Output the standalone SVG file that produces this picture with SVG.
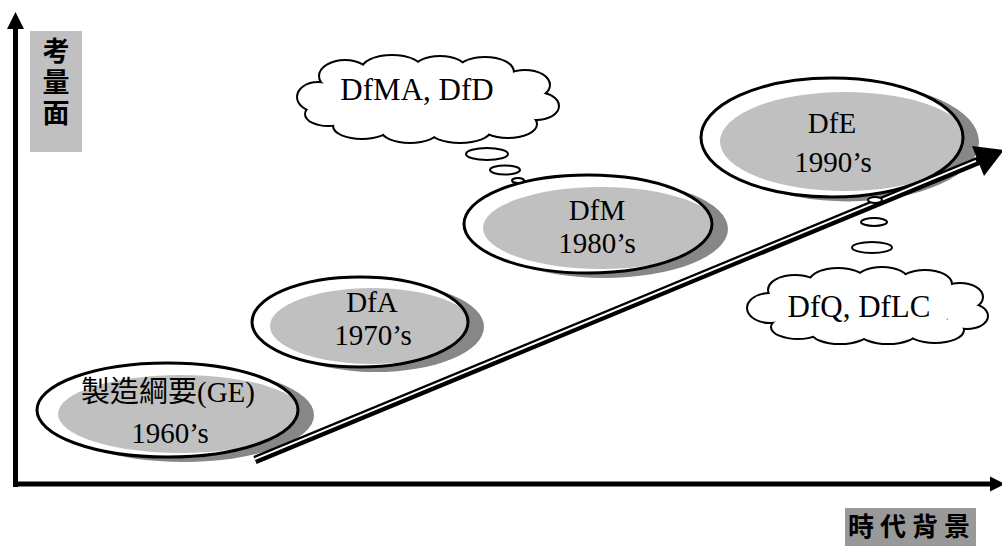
<svg xmlns="http://www.w3.org/2000/svg" width="1002" height="546" viewBox="0 0 1002 546">
<style>
.axis{stroke:#000;stroke-width:5;fill:none}
.head{fill:#000}
.shadow{fill:#878787}
.face{fill:#fff}
.inner{fill:#c0c0c0}
.rim{fill:none;stroke:#000;stroke-width:3}
.ntext{font-family:"Liberation Serif","Times New Roman","Noto Sans CJK TC",serif;font-size:29px;fill:#000;text-anchor:middle}
.ctext{font-family:"Liberation Serif","Times New Roman",serif;font-size:31px;fill:#000;text-anchor:middle}
.lab{font-family:"Noto Sans CJK TC",sans-serif;font-weight:700;fill:#000}
.bubble{fill:#fff;stroke:#000;stroke-width:2}
</style>
<defs>
<clipPath id="clip-ge"><ellipse cx="167.5" cy="410" rx="130.5" ry="47"/></clipPath>
<clipPath id="clip-dfa"><ellipse cx="360" cy="322" rx="108" ry="45"/></clipPath>
<clipPath id="clip-dfm"><ellipse cx="588" cy="224" rx="124" ry="49"/></clipPath>
<clipPath id="clip-dfe"><ellipse cx="832" cy="137.5" rx="131" ry="59.5"/></clipPath>
<g id="cloud1-shape">
<ellipse cx="318" cy="97" rx="20" ry="14"/>
<ellipse cx="345" cy="76" rx="25" ry="15"/>
<ellipse cx="392" cy="70" rx="30" ry="14"/>
<ellipse cx="440" cy="70" rx="26" ry="13"/>
<ellipse cx="485" cy="72" rx="28" ry="14"/>
<ellipse cx="525" cy="85" rx="24" ry="14"/>
<ellipse cx="536" cy="106" rx="22" ry="13"/>
<ellipse cx="508" cy="124" rx="28" ry="13"/>
<ellipse cx="460" cy="130" rx="30" ry="12"/>
<ellipse cx="410" cy="130" rx="28" ry="12"/>
<ellipse cx="362" cy="126" rx="28" ry="12"/>
<ellipse cx="328" cy="114" rx="22" ry="11"/>
<ellipse cx="428" cy="100" rx="105" ry="28"/>
</g>
<g id="cloud2-shape">
<ellipse cx="770" cy="308" rx="22" ry="14"/>
<ellipse cx="795" cy="290" rx="26" ry="14"/>
<ellipse cx="838" cy="282" rx="28" ry="13"/>
<ellipse cx="882" cy="281" rx="26" ry="13"/>
<ellipse cx="925" cy="284" rx="26" ry="13"/>
<ellipse cx="960" cy="297" rx="22" ry="13"/>
<ellipse cx="967" cy="316" rx="20" ry="12"/>
<ellipse cx="935" cy="330" rx="28" ry="12"/>
<ellipse cx="888" cy="332" rx="28" ry="11"/>
<ellipse cx="840" cy="332" rx="28" ry="11"/>
<ellipse cx="798" cy="327" rx="26" ry="11"/>
<ellipse cx="867" cy="306" rx="95" ry="24"/>
</g>
</defs>

<g id="axes">
<line class="axis" x1="15.5" y1="487" x2="15.5" y2="26"/>
<polygon class="head" points="15.5,12 7,29 24,29"/>
<line class="axis" x1="13" y1="484" x2="992" y2="484"/>
<polygon class="head" points="1005,484 990,476.5 990,491.5"/>
</g>

<g id="label-y">
<rect x="30" y="31" width="52" height="121" fill="#c0c0c0"/>
<text class="lab" font-size="27" writing-mode="vertical-rl" letter-spacing="4" x="56" y="37">考量面</text>
</g>

<g id="label-x">
<rect x="845" y="508" width="131" height="38" fill="#999999"/>
<text class="lab" font-size="26" letter-spacing="6" x="848" y="536">時代背景</text>
</g>

<g id="node-dfa">
<ellipse class="shadow" cx="376" cy="327" rx="108" ry="45"/>
<ellipse class="face" cx="360" cy="322" rx="108" ry="45"/>
<ellipse class="inner" clip-path="url(#clip-dfa)" cx="372" cy="326" rx="102" ry="38"/>
<ellipse class="rim" cx="360" cy="322" rx="108" ry="45"/>
<text class="ntext" x="372" y="312">DfA</text>
<text class="ntext" x="373" y="345">1970’s</text>
</g>

<g id="node-ge">
<ellipse class="shadow" cx="183.5" cy="415" rx="130.5" ry="47"/>
<ellipse class="face" cx="167.5" cy="410" rx="130.5" ry="47"/>
<ellipse class="inner" clip-path="url(#clip-ge)" cx="181" cy="414" rx="123" ry="39"/>
<ellipse class="rim" cx="167.5" cy="410" rx="130.5" ry="47"/>
<text class="ntext" x="168" y="402">製造綱要(GE)</text>
<text class="ntext" x="170" y="443">1960’s</text>
</g>

<g id="node-dfm">
<ellipse class="shadow" cx="604" cy="229" rx="124" ry="49"/>
<ellipse class="face" cx="588" cy="224" rx="124" ry="49"/>
<ellipse class="inner" clip-path="url(#clip-dfm)" cx="601" cy="228" rx="118" ry="41"/>
<ellipse class="rim" cx="588" cy="224" rx="124" ry="49"/>
<text class="ntext" x="597" y="220">DfM</text>
<text class="ntext" x="597" y="253">1980’s</text>
</g>

<g id="node-dfe">
<ellipse class="shadow" cx="848" cy="142" rx="131" ry="59.5"/>
<ellipse class="face" cx="832" cy="137.5" rx="131" ry="59.5"/>
<ellipse class="inner" clip-path="url(#clip-dfe)" cx="845" cy="141.5" rx="125" ry="49.5"/>
<ellipse class="rim" cx="832" cy="137.5" rx="131" ry="59.5"/>
<text class="ntext" x="832" y="133">DfE</text>
<text class="ntext" x="833" y="172">1990’s</text>
</g>

<g id="connectors">
<line x1="255" y1="460" x2="980" y2="160.2" stroke="#000" stroke-width="8.5"/>
<line x1="254.6" y1="459.1" x2="976" y2="160.8" stroke="#fff" stroke-width="2"/>
<polygon class="head" points="1004,150 972,146 984,176"/>
</g>

<g id="cloud-dfma">
<use href="#cloud1-shape" fill="#000" stroke="#000" stroke-width="4"/>
<use href="#cloud1-shape" fill="#fff" stroke="none"/>
<text class="ctext" x="417" y="100">DfMA, DfD</text>
<ellipse class="bubble" cx="487" cy="154" rx="21" ry="6"/>
<ellipse class="bubble" cx="505" cy="170" rx="15" ry="4.5"/>
<ellipse class="bubble" cx="518" cy="180.5" rx="6" ry="2.5"/>
</g>

<g id="cloud-dfq">
<use href="#cloud2-shape" fill="#000" stroke="#000" stroke-width="4"/>
<use href="#cloud2-shape" fill="#fff" stroke="none"/>
<text class="ctext" x="859" y="317">DfQ, DfLC</text>
<ellipse class="bubble" cx="875" cy="200" rx="7" ry="3"/>
<ellipse class="bubble" cx="874" cy="222" rx="13" ry="4"/>
<ellipse class="bubble" cx="872" cy="247.5" rx="20" ry="5.5"/>
</g>
</svg>
